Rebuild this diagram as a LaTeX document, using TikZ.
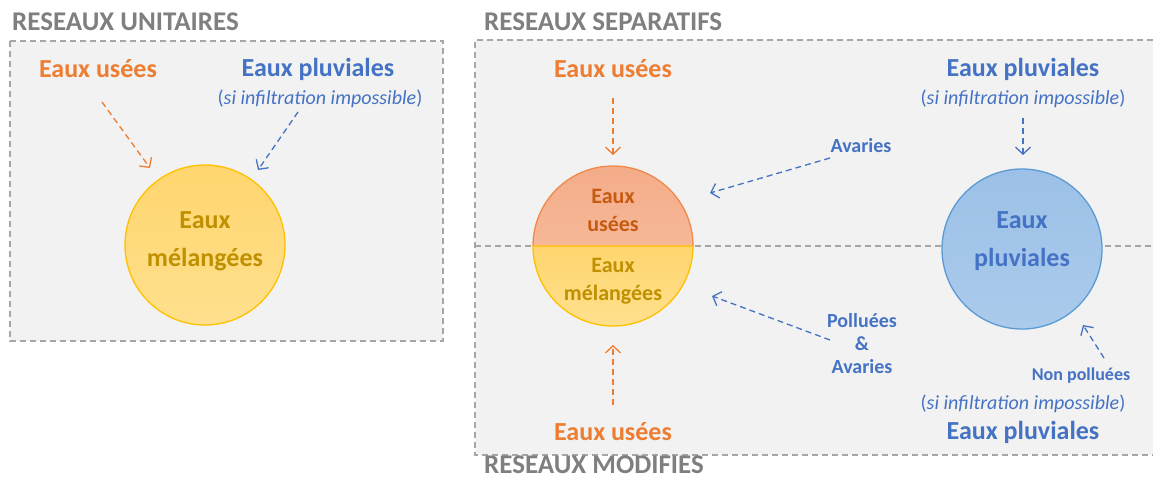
\documentclass[tikz,border=0pt]{standalone}
\usepackage{fontspec}
\setmainfont{Carlito}
\usetikzlibrary{arrows.meta}
\definecolor{headgray}{HTML}{7F7F7F}
\definecolor{boxfill}{HTML}{F2F2F2}
\definecolor{boxline}{HTML}{A6A6A6}
\definecolor{orangeT}{HTML}{ED7D31}
\definecolor{blueT}{HTML}{4472C4}
\definecolor{yelTop}{HTML}{FFD66E}
\definecolor{yelBot}{HTML}{FFE08E}
\definecolor{yelLine}{HTML}{FFC000}
\definecolor{yelText}{HTML}{BF9000}
\definecolor{orgTop}{HTML}{F4AC88}
\definecolor{orgBot}{HTML}{F6B898}
\definecolor{orgLine}{HTML}{F08A4B}
\definecolor{orgText}{HTML}{C55A11}
\definecolor{bluTop}{HTML}{9CC0E7}
\definecolor{bluBot}{HTML}{ABCBEC}
\definecolor{bluLine}{HTML}{5B9BD5}
\tikzset{
  heading/.style={font=\fontsize{27}{30}\selectfont\bfseries, text=headgray, anchor=west, inner sep=0pt},
  lbl/.style={font=\fontsize{26}{30}\selectfont\bfseries, inner sep=0pt},
  note/.style={font=\fontsize{20}{24}\selectfont, text=blueT, inner sep=0pt},
  small/.style={font=\fontsize{20}{24}\selectfont\bfseries, text=blueT, inner sep=0pt, align=center},
  flow/.style={dash pattern=on 6pt off 4pt, line width=1.3pt, -{Straight Barb[length=7pt,width=15pt,line width=1.3pt]}},
  frame/.style={draw=boxline, dash pattern=on 6pt off 4pt, line width=1.2pt},
  bigtext/.style={font=\fontsize{26}{38}\selectfont\bfseries, align=center, inner sep=0pt},
  midtext/.style={font=\fontsize{22}{28}\selectfont\bfseries, align=center, inner sep=0pt},
}
\begin{document}
\begin{tikzpicture}[x=1pt,y=-1pt]
\useasboundingbox (0,0) rectangle (1153,479);
\fill[white] (0,0) rectangle (1153,479);
% frames
\fill[boxfill] (10,41) rectangle (443,341);
\draw[frame] (10,41) rectangle (443,341);
\fill[boxfill] (475,40) rectangle (1153,455);
\draw[frame] (1153,40) -- (475,40) -- (475,455) -- (1153,455);
\draw[frame] (475,246) -- (1153,246);
% headings
\node[heading] (hU) at (12,22) {RESEAUX UNITAIRES};
\node[heading] (hS) at (484,22) {RESEAUX SEPARATIFS};
\node[heading] (hM) at (484,465) {RESEAUX MODIFIES};
% ---- unitaire
\node[circle, minimum size=160pt, draw=yelLine, line width=1.3pt, top color=yelTop, bottom color=yelBot] (cU) at (205,245) {};
\node[bigtext, text=yelText] (cUt) at (205,241) {Eaux\\mélangées};
\node[lbl, text=orangeT] (uEU) at (98,69) {Eaux usées};
\node[lbl, text=blueT] (uEP) at (318,69) {Eaux pluviales};
\node[note] (uSI) at (320,99) {(\textit{si infiltration impossible})};
\coordinate (a1s) at (102,102); \coordinate (a1e) at (150,168);
\coordinate (a2s) at (298,112); \coordinate (a2e) at (258,170);
\draw[flow, orangeT] (a1s) -- (a1e);
\draw[flow, blueT] (a2s) -- (a2e);
% ---- separatif / modifie : split circle
\coordinate (cM) at (613,246);
\fill[top color=orgTop, bottom color=orgBot] (533,246) arc[start angle=180, end angle=360, radius=80] -- cycle;
\fill[top color=yelTop, bottom color=yelBot] (533,246) arc[start angle=180, end angle=0, radius=80] -- cycle;
\draw[orgLine, line width=1.3pt] (533,246) arc[start angle=180, end angle=360, radius=80];
\draw[yelLine, line width=1.3pt] (533,246) arc[start angle=180, end angle=0, radius=80] -- cycle;
\node[midtext, text=orgText] (cMt) at (613,210) {Eaux\\usées};
\node[midtext, text=yelText] (cMb) at (613,281) {Eaux\\mélangées};
\node[lbl, text=orangeT] (sEU) at (613,69) {Eaux usées};
\node[lbl, text=orangeT] (mEU) at (613,432) {Eaux usées};
\coordinate (a3s) at (613,98); \coordinate (a3e) at (613,155);
\coordinate (a4s) at (613,405); \coordinate (a4e) at (613,345);
\draw[flow, orangeT] (a3s) -- (a3e);
\draw[flow, orangeT] (a4s) -- (a4e);
\node[small] (av) at (861,146) {Avaries};
\node[small] (pa) at (862,344) {Polluées\\[-1pt]\&\\[-1pt]Avaries};
\coordinate (a5s) at (830,158); \coordinate (a5e) at (710,193);
\coordinate (a6s) at (830,340); \coordinate (a6e) at (712,296);
\draw[flow, blueT] (a5s) -- (a5e);
\draw[flow, blueT] (a6s) -- (a6e);
% ---- blue circle
\node[circle, minimum size=160pt, draw=bluLine, line width=1.3pt, top color=bluTop, bottom color=bluBot] (cP) at (1022,249) {};
\node[bigtext, text=blueT] (cPt) at (1022,241) {Eaux\\pluviales};
\node[lbl, text=blueT] (sEP) at (1023,69) {Eaux pluviales};
\node[note] (sSI) at (1023,99) {(\textit{si infiltration impossible})};
\node[small, font=\fontsize{18}{22}\selectfont\bfseries] (np) at (1081,376) {Non polluées};
\node[note] (mSI) at (1023,404) {(\textit{si infiltration impossible})};
\node[lbl, text=blueT] (mEP) at (1023,432) {Eaux pluviales};
\coordinate (a7s) at (1023,118); \coordinate (a7e) at (1023,155);
\coordinate (a8s) at (1104,358); \coordinate (a8e) at (1083,325);
\draw[flow, blueT] (a7s) -- (a7e);
\draw[flow, blueT] (a8s) -- (a8e);
\end{tikzpicture}
\end{document}
